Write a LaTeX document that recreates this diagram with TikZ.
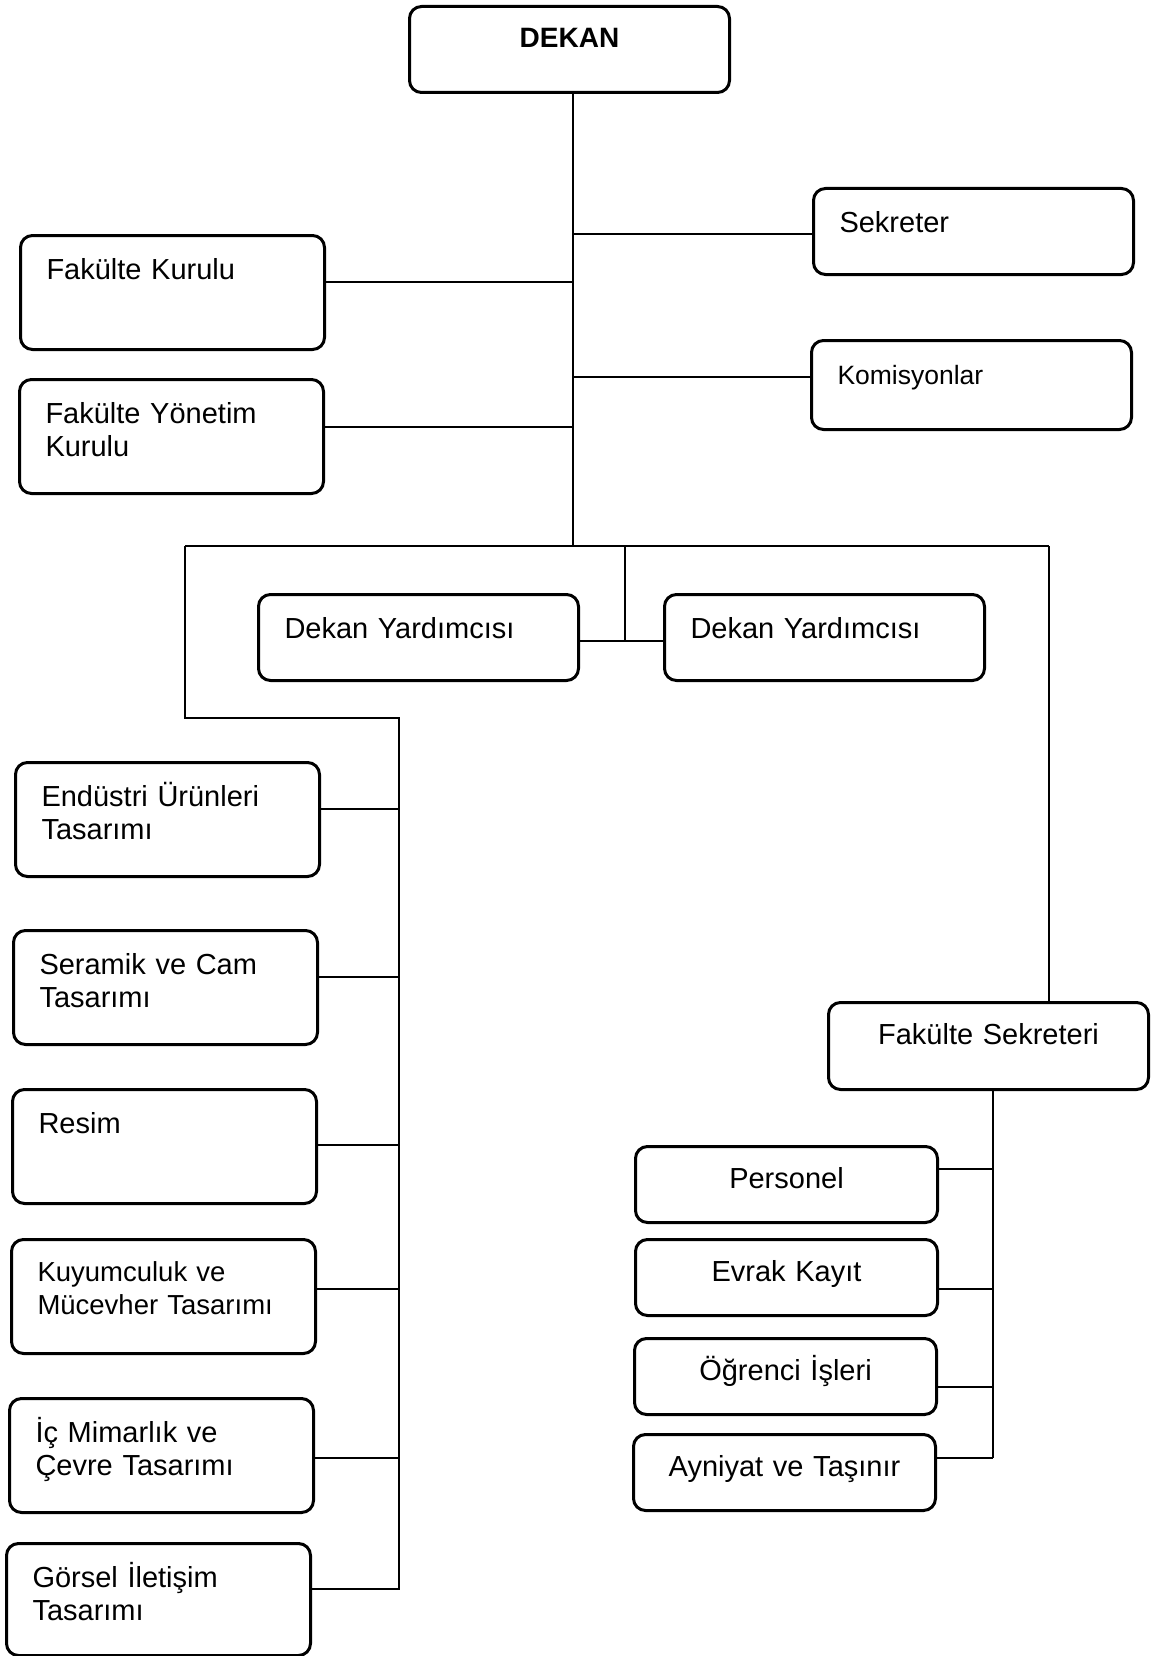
\documentclass[tikz,border=0pt]{standalone}
\usepackage{fontspec}
\setmainfont{Liberation Sans}
\begin{document}
\begin{tikzpicture}[x=1pt,y=-1pt]
        \tikzstyle{unit}=[draw,line width=3pt,rounded corners=12pt,anchor=north west,inner xsep=26pt,inner ysep=0pt,text height=44pt,align=left,font=\fontsize{29}{33}\selectfont]
        \tikzstyle{wide}=[unit,text width=268pt,text depth=42pt]
        \tikzstyle{tall}=[unit,text width=252pt,text depth=70pt]
        \tikzstyle{small}=[unit,text width=250pt,text height=42pt,text depth=34pt,align=center]
        \tikzstyle{link}=[draw,line width=1.5pt]
        \useasboundingbox (0,0) rectangle (1151,1656);

         % upper part
         \node [wide,align=center,text height=41pt,text depth=45pt,font=\fontsize{28}{33}\selectfont\bfseries] (dekan) at (408,5) {DEKAN};
         \node [wide] (sek) at (812,187) {Sekreter};
         \node [wide,text depth=45pt,font=\fontsize{26.5}{33}\selectfont] (kom) at (810,339) {Komisyonlar};
         \node [tall] (fk) at (19,234) {Fakülte Kurulu};
         \node [tall] (fyk) at (18,378) {Fakülte Yönetim Kurulu};
         \node [wide] (dy1) at (257,593) {Dekan Yardımcısı};
         \node [wide] (dy2) at (663,593) {Dekan Yardımcısı};

         % departments
         \node [tall] (end) at (14,761) {Endüstri Ürünleri Tasarımı};
         \node [tall] (ser) at (12,929) {Seramik ve Cam Tasarımı};
         \node [tall] (res) at (11,1088) {Resim};
         \node [tall,text height=42pt,text depth=72pt,font=\fontsize{27.5}{33}\selectfont] (kuy) at (10,1238) {Kuyumculuk ve Mücevher Tasarımı};
         \node [tall] (ic) at (8,1397) {İç Mimarlık ve Çevre Tasarımı};
         \node [tall,text depth=68pt] (gor) at (5,1542) {Görsel İletişim Tasarımı};

         % secretary units
         \node [wide,align=center,text height=42pt,text depth=45pt] (fs) at (827,1001) {Fakülte Sekreteri};
         \node [small] (per) at (634,1145) {Personel};
         \node [small] (evr) at (634,1238) {Evrak Kayıt};
         \node [small] (ogr) at (633,1337) {Öğrenci İşleri};
         \node [small] (ayn) at (632,1433) {Ayniyat ve Taşınır};

         \coordinate (b0) at (573,546);
         \coordinate (bl) at (185,546);
         \coordinate (br) at (1049,546);
         \coordinate (bm) at (625,546);
         \coordinate (c1) at (185,718);
         \coordinate (c2) at (399,718);
         \coordinate (c3) at (399,1589);
         \coordinate (rb) at (993,1458);

         \path[link] (b0 |- dekan.south) -- (b0);
         \path[link] (b0 |- 0,234) -- (sek.west |- 0,234);
         \path[link] (fk.east |- 0,282) -- (b0 |- 0,282);
         \path[link] (b0 |- 0,377) -- (kom.west |- 0,377);
         \path[link] (fyk.east |- 0,427) -- (b0 |- 0,427);
         \path[link] (bl) -- (br);
         \path[link] (bm) -- (bm |- 0,641);
         \path[link] (dy1.east |- 0,641) -- (dy2.west |- 0,641);

         \path[link] (bl) -- (c1) -- (c2) -- (c3) -- (gor.east |- c3);
         \path[link] (end.east |- 0,809) -- (c2 |- 0,809);
         \path[link] (ser.east |- 0,977) -- (c2 |- 0,977);
         \path[link] (res.east |- 0,1145) -- (c2 |- 0,1145);
         \path[link] (kuy.east |- 0,1289) -- (c2 |- 0,1289);
         \path[link] (ic.east |- 0,1458) -- (c2 |- 0,1458);

         \path[link] (br) -- (br |- fs.north);
         \path[link] (rb |- fs.south) -- (rb);
         \path[link] (per.east |- 0,1169) -- (rb |- 0,1169);
         \path[link] (evr.east |- 0,1289) -- (rb |- 0,1289);
         \path[link] (ogr.east |- 0,1387) -- (rb |- 0,1387);
         \path[link] (ayn.east |- rb) -- (rb);
\end{tikzpicture}
\end{document}
